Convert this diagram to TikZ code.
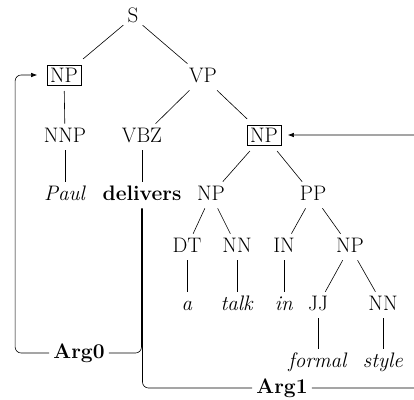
\documentclass[tikz,border=0pt]{standalone}
\usetikzlibrary{arrows.meta}

\tikzset{every picture/.style={line width=0.6pt}}
\tikzset{
  tag/.style={anchor=base, inner sep=4pt, text height=14pt, text depth=4pt, font=\fontsize{21}{25}\selectfont},
  boxed/.style={tag, draw, inner sep=3pt, outer sep=6pt, text depth=0pt},
  argline/.style={rounded corners=6pt},
  argarrow/.style={rounded corners=6pt, -{Latex[length=6pt,width=4.5pt]}}
}

\begin{document}
\begin{tikzpicture}[x=1pt,y=1pt,yscale=-1,xscale=1]
        \useasboundingbox (0,0) rectangle (414,399);
        \clip (0,0) rectangle (414,399);
        \node[tag] (s) at (133,22) {S};
        \node[boxed] (np1) at (64,82) {NP};
        \node[tag] (vp) at (203,82) {VP};
        \node[tag] (nnp) at (65,142) {NNP};
        \node[tag] (vbz) at (142,142) {VBZ};
        \node[boxed] (np2) at (264,142) {NP};
        \node[tag] (wpaul) at (65,200) {\textit{Paul}};
        \node[tag] (wdeliv) at (142,200) {\textbf{delivers}};
        \node[tag] (np3) at (211,200) {NP};
        \node[tag] (pp) at (313,200) {PP};
        \node[tag] (dt) at (187,252) {DT};
        \node[tag] (nn1) at (237,252) {NN};
        \node[tag] (tin) at (284,252) {IN};
        \node[tag] (np4) at (350,252) {NP};
        \node[tag] (wa) at (187,310) {\textit{a}};
        \node[tag] (wtalk) at (237,310) {\textit{talk}};
        \node[tag] (win) at (284,310) {\textit{in}};
        \node[tag] (jj) at (318,310) {JJ};
        \node[tag] (nn2) at (383,310) {NN};
        \node[tag] (wformal) at (318,367) {\textit{formal}};
        \node[tag] (wstyle) at (383,367) {\textit{style}};
        \node[tag] (arg0) at (79,358) {\textbf{Arg0}};
        \node[tag] (arg1) at (282,393) {\textbf{Arg1}};
        \draw (s) -- (np1);
        \draw (s) -- (vp);
        \draw (np1) -- (nnp);
        \draw (nnp) -- (wpaul);
        \draw (vp) -- (vbz);
        \draw (vp) -- (np2);
        \draw (vbz) -- (wdeliv);
        \draw (np2) -- (np3);
        \draw (np2) -- (pp);
        \draw (np3) -- (dt);
        \draw (np3) -- (nn1);
        \draw (dt) -- (wa);
        \draw (nn1) -- (wtalk);
        \draw (pp) -- (tin);
        \draw (pp) -- (np4);
        \draw (tin) -- (win);
        \draw (np4) -- (jj);
        \draw (np4) -- (nn2);
        \draw (jj) -- (wformal);
        \draw (nn2) -- (wstyle);
        \draw [argline] ([xshift=-0.5pt]wdeliv.south) |- (arg0.east);
        \draw [argarrow, shorten >=4pt] (arg0.west) -| ([xshift=-26pt]np1.west) -- (np1.west);
        \draw [argline] ([xshift=0.5pt]wdeliv.south) |- (arg1.west);
        \draw [argarrow, shorten >=1pt] (arg1.east) -| ([xshift=140pt]np2.east) -- (np2.east);
    \end{tikzpicture}
\end{document}
